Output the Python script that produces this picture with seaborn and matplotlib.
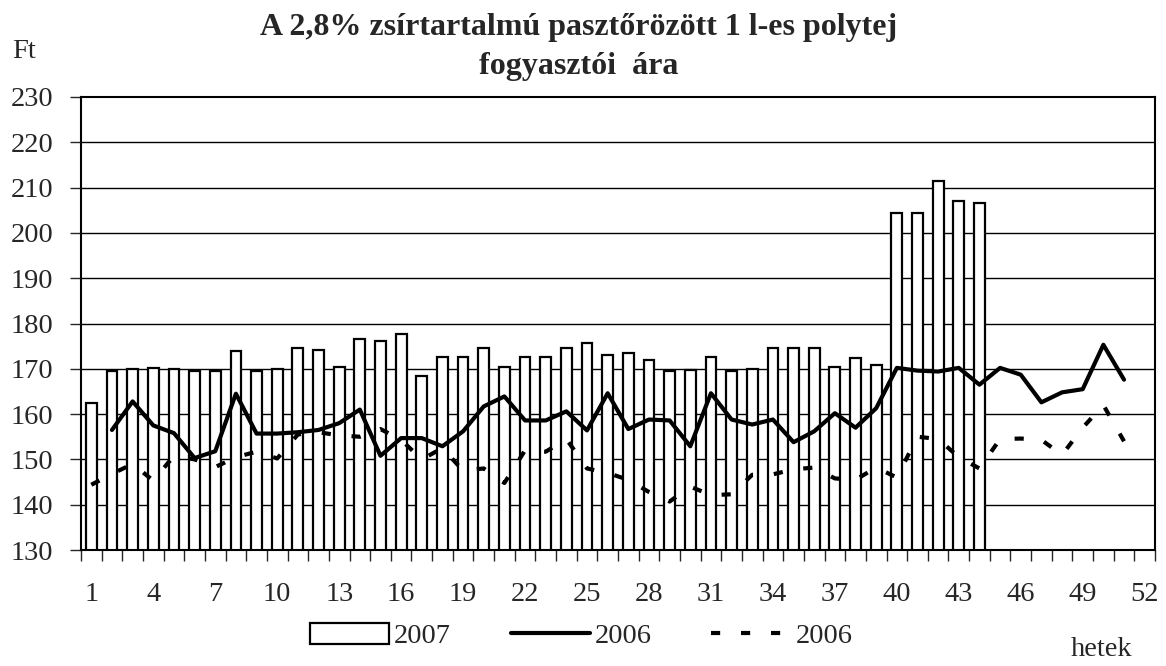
import numpy as np
import matplotlib
matplotlib.use('Agg')
import matplotlib.pyplot as plt
from matplotlib.patches import Patch
from matplotlib.lines import Line2D
import pandas as pd
import seaborn as sns

weeks = list(range(1, 53))

# 2007 oszlopok (1-44. hét)
bars_2007 = [162.5, 169.5, 170, 170.2, 170, 169.5, 169.5, 174, 169.5, 170,
             174.7, 174.2, 170.3, 176.6, 176.2, 177.6, 168.5, 172.5, 172.5, 174.5,
             170.5, 172.5, 172.5, 174.5, 175.8, 173, 173.5, 172, 169.5, 169.7,
             172.5, 169.5, 170, 174.7, 174.7, 174.7, 170.5, 172.3, 170.9, 204.5,
             204.5, 211.5, 207, 206.5]

# 2006 folytonos (2-51. hét)
solid_2006 = [156.5, 162.8, 157.5, 155.8, 150.3, 151.8, 164.5, 155.7, 155.7,
              156, 156.5, 158, 161, 150.8, 154.7, 154.7, 152.9, 156.2, 161.7,
              163.9, 158.6, 158.6, 160.6, 156.4, 164.6, 156.7, 158.8, 158.6, 152.9,
              164.6, 158.8, 157.7, 158.8, 153.8, 156.2, 160.2, 157, 161.3, 170.2,
              169.6, 169.4, 170.2, 166.5, 170.2, 168.7, 162.6, 164.8, 165.5, 175.3,
              167.6]

# 2006 szaggatott (1-51. hét)
dashed_2006 = [144.4, 146.8, 149, 145.3, 150.8, 150, 148.3, 150.5, 151.7, 150.2,
               155.5, 156, 155.3, 155, 156.7, 154.3, 150, 152.5, 147.5, 148,
               144.8, 152, 151.7, 154.5, 148, 147, 145.5, 142.8, 140.7, 144,
               142.1, 142.3, 146.6, 146.7, 147.8, 148.2, 145.8, 145.5, 148.2, 146,
               155, 154.5, 150.5, 148, 154.5, 154.6, 154.3, 151, 157, 162, 154]

df_bar = pd.DataFrame({'het': [str(w) for w in weeks[:len(bars_2007)]], 'ar': bars_2007})
df_solid = pd.DataFrame({'x': np.arange(1, 1 + len(solid_2006)), 'ar': solid_2006})
df_dash = pd.DataFrame({'x': np.arange(0, len(dashed_2006)), 'ar': dashed_2006})

sns.set_style('white')
plt.rcParams['font.family'] = ['Liberation Serif', 'DejaVu Serif']

fig = plt.figure(figsize=(11.66, 6.66), dpi=100)
ax = fig.add_axes([81 / 1166, 1 - 550 / 666, 1074 / 1166, 453 / 666])

for v in range(140, 230, 10):
    ax.axhline(v, color='black', lw=1, zorder=0)

sns.barplot(x='het', y='ar', data=df_bar, order=[str(w) for w in weeks], ax=ax,
            color='white', edgecolor='black', linewidth=1.6, width=0.52, zorder=2)
sns.lineplot(x='x', y='ar', data=df_solid, ax=ax, color='black', lw=3, zorder=3)
sns.lineplot(x='x', y='ar', data=df_dash, ax=ax, color='black', lw=3,
             dashes=False, zorder=3).lines[-1].set_dashes([2.2, 5])

ax.set_xlim(-0.5, 51.5)
ax.set_ylim(130, 230)
ax.set_yticks(range(130, 231, 10))
ax.set_xticks(np.arange(-0.5, 52, 1))
ax.set_xticklabels([])
ax.set_xticks(np.arange(0, 52, 3), minor=True)
ax.set_xticklabels([str(w) for w in weeks[::3]], minor=True)
ax.tick_params(axis='x', which='major', direction='out', length=8, width=1, bottom=True)
ax.tick_params(axis='x', which='minor', length=0, pad=23, labelsize=20.5)
ax.tick_params(axis='y', direction='out', length=8, width=1, left=True, pad=12, labelsize=20.5)
ax.set_xlabel('')
ax.set_ylabel('')
for s in ax.spines.values():
    s.set_color('black')
    s.set_linewidth(1.5)

fig.text(579 / 1166, 1 - 47 / 666, 'A 2,8% zsírtartalmú pasztőrözött 1 l-es polytej\nfogyasztói  ára',
         ha='center', va='center', fontsize=23, fontweight='bold', linespacing=1.45)
fig.text(12 / 1166, 1 - 52 / 666, 'Ft', ha='left', va='center', fontsize=20.5)
fig.text(1132 / 1166, 1 - 650 / 666, 'hetek', ha='right', va='center', fontsize=20.5)

handles = [Patch(facecolor='white', edgecolor='black', linewidth=1.6),
           Line2D([], [], color='black', lw=3),
           Line2D([], [], color='black', lw=3, dashes=[2.2, 5])]
fig.legend(handles, ['2007', '2006', '2006'], loc='center', ncol=3, frameon=False,
           bbox_to_anchor=(581 / 1166, 1 - 636 / 666), fontsize=20.5,
           handlelength=2.8, handleheight=0.75, handletextpad=0.15, columnspacing=2.1)

fig.savefig('out.png', dpi=100)
